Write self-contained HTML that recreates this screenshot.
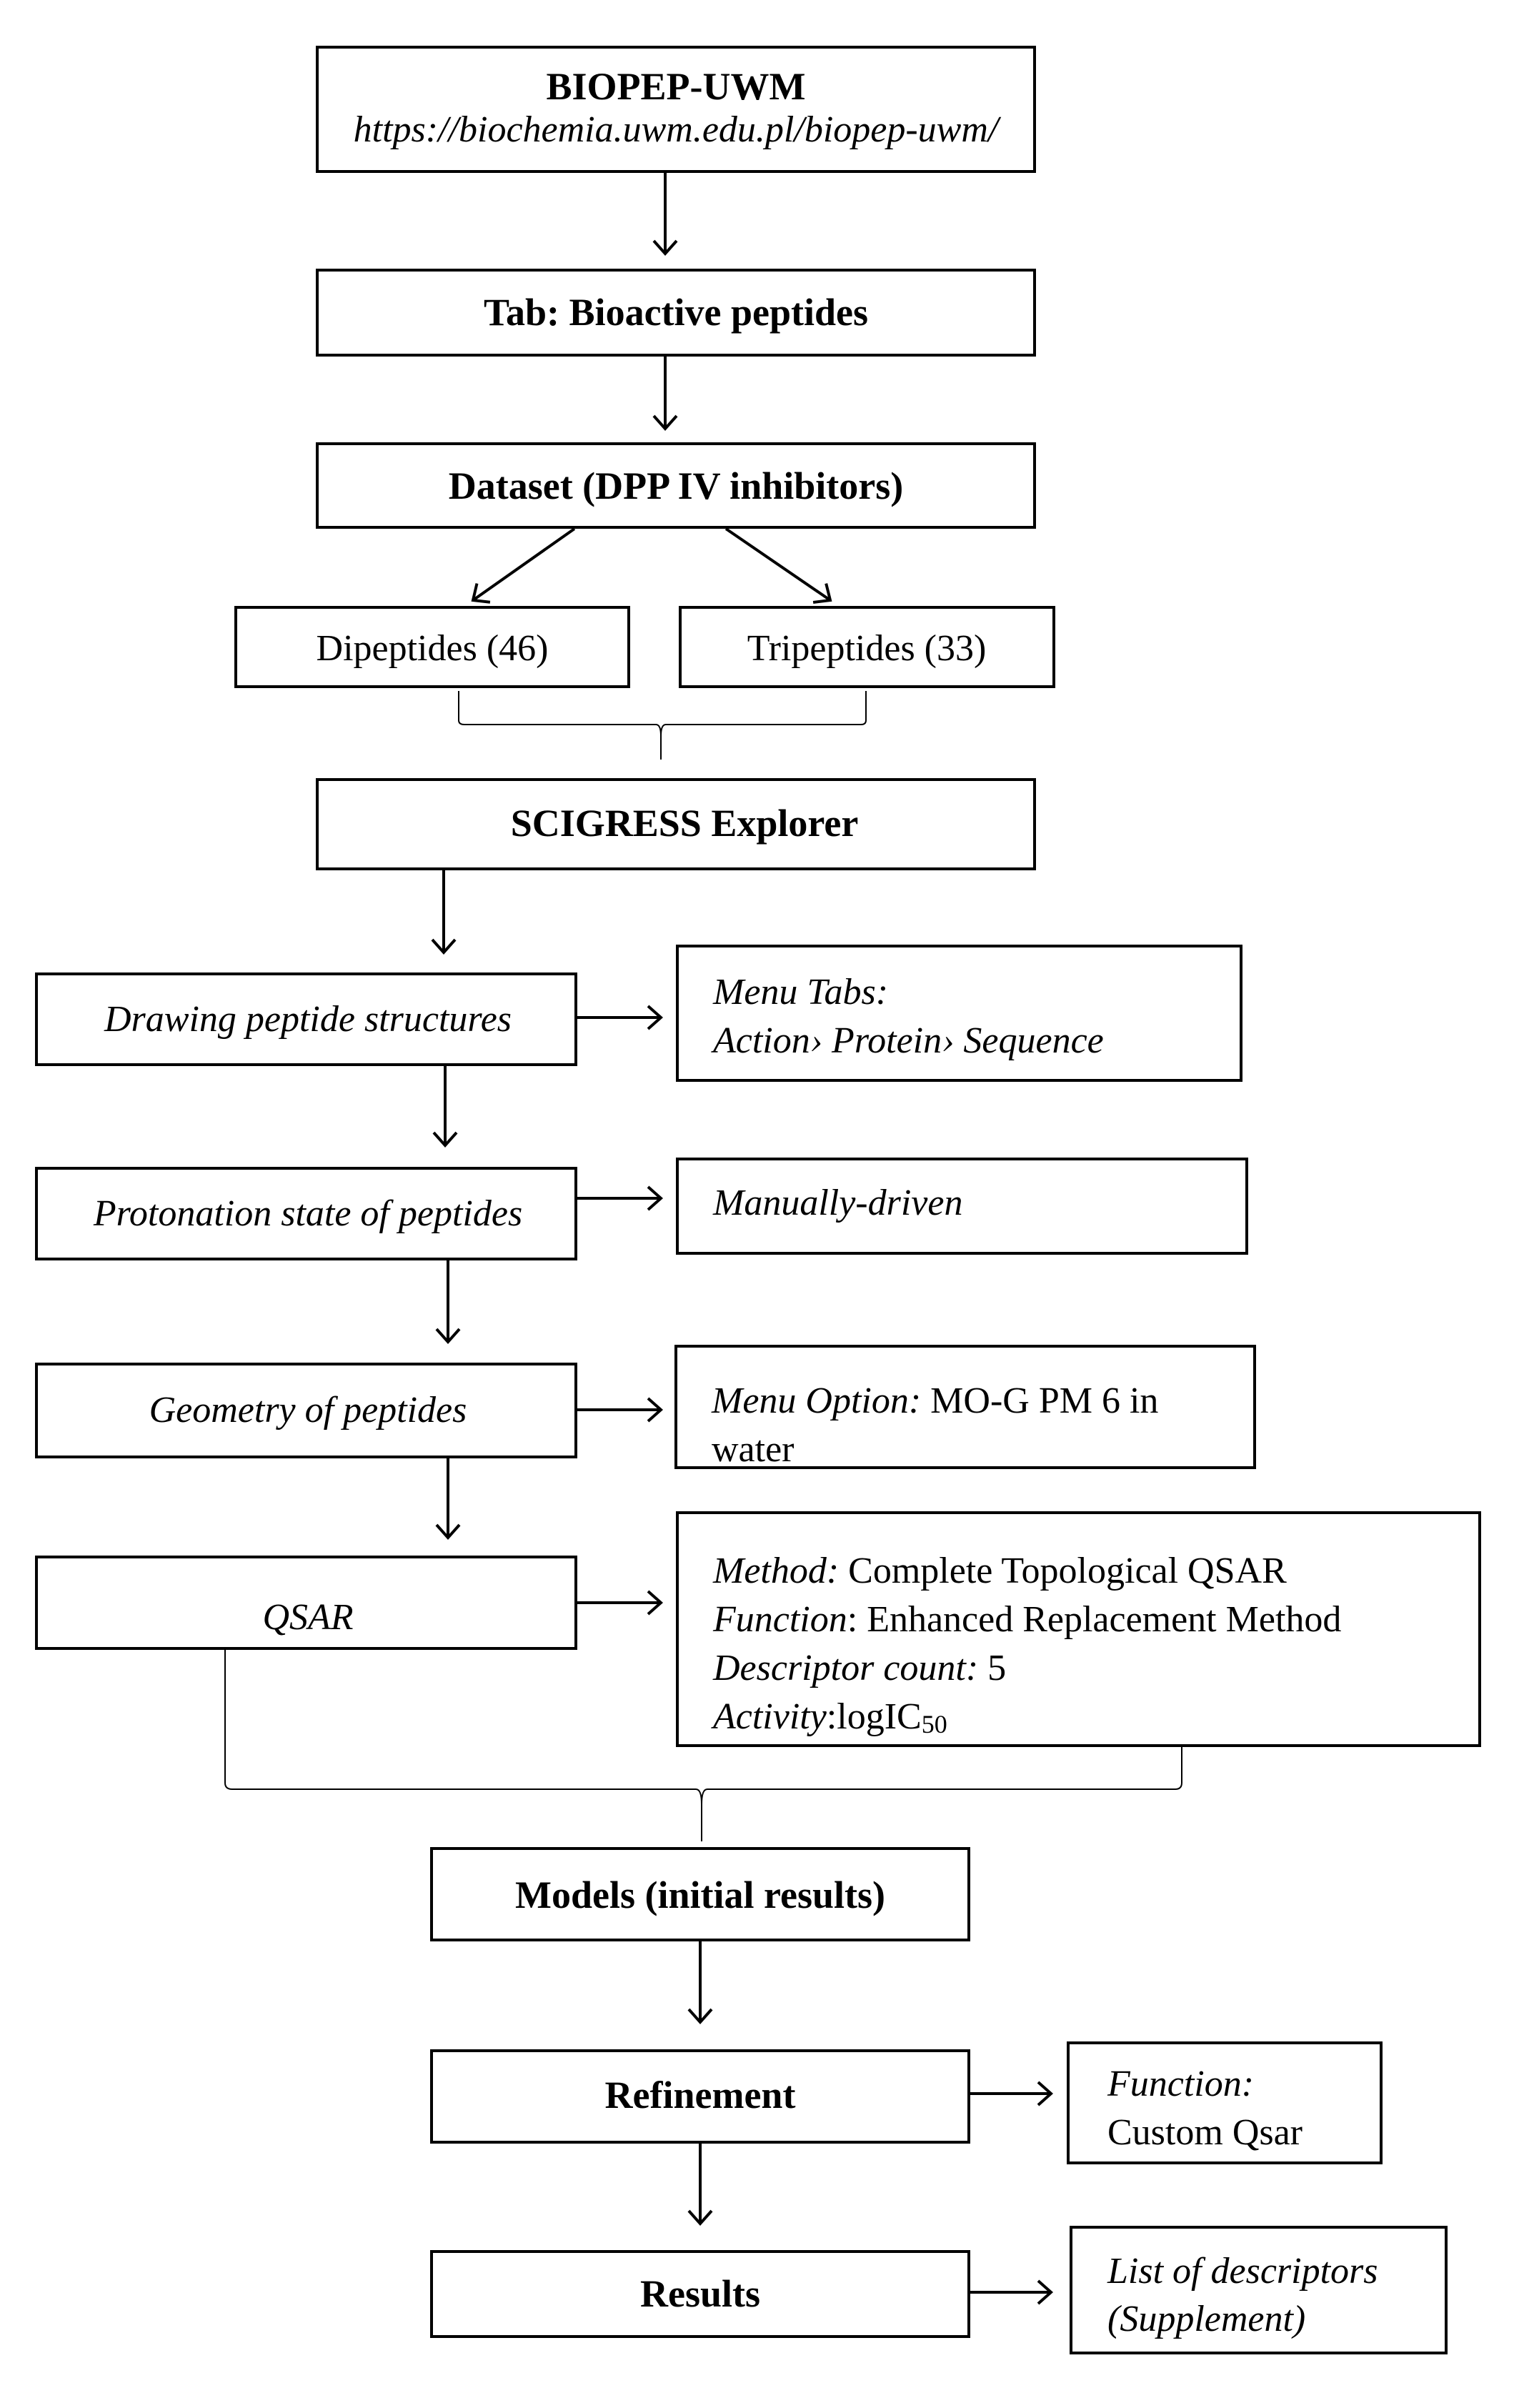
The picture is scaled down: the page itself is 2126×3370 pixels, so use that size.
<!DOCTYPE html>
<html><head><meta charset="utf-8"><style>
html,body{margin:0;padding:0;background:#fff}
svg{display:block}
text{font-family:"Liberation Serif",serif;fill:#000}
.b{font-weight:bold;font-size:54px}
.n{font-size:52px}
.i{font-size:52px;font-style:italic}
</style></head><body>
<svg width="2126" height="3370" viewBox="0 0 2126 3370" xmlns="http://www.w3.org/2000/svg">
<defs>
<marker id="a" markerWidth="40" markerHeight="40" refX="20" refY="20" orient="auto" markerUnits="userSpaceOnUse">
<path d="M2,4 L20,20 L2,36" fill="none" stroke="#000" stroke-width="4"/>
</marker>
</defs>
<g fill="none" stroke="#000" stroke-width="4">
<rect x="444" y="66" width="1004" height="174"/>
<rect x="444" y="378" width="1004" height="119"/>
<rect x="444" y="621" width="1004" height="117"/>
<rect x="330" y="850" width="550" height="111"/>
<rect x="952" y="850" width="523" height="111"/>
<rect x="444" y="1091" width="1004" height="125"/>
<rect x="51" y="1363" width="755" height="127"/>
<rect x="948" y="1324" width="789" height="188"/>
<rect x="51" y="1635" width="755" height="127"/>
<rect x="948" y="1622" width="797" height="132"/>
<rect x="51" y="1909" width="755" height="130"/>
<rect x="946" y="1884" width="810" height="170"/>
<rect x="51" y="2179" width="755" height="128"/>
<rect x="948" y="2117" width="1123" height="326"/>
<rect x="604" y="2587" width="752" height="128"/>
<rect x="604" y="2870" width="752" height="128"/>
<rect x="1495" y="2859" width="438" height="168"/>
<rect x="604" y="3151" width="752" height="119"/>
<rect x="1499" y="3117" width="525" height="176"/>
</g>
<g fill="none" stroke="#000" stroke-width="4" marker-end="url(#a)">
<line x1="931" y1="240" x2="931" y2="355"/>
<line x1="931" y1="497" x2="931" y2="600"/>
<line x1="804" y1="740" x2="662" y2="840"/>
<line x1="1016" y1="740" x2="1162" y2="840"/>
<line x1="621" y1="1216" x2="621" y2="1333"/>
<line x1="808" y1="1424" x2="925" y2="1424"/>
<line x1="623" y1="1490" x2="623" y2="1603"/>
<line x1="808" y1="1677" x2="925" y2="1677"/>
<line x1="627" y1="1762" x2="627" y2="1878"/>
<line x1="808" y1="1973" x2="925" y2="1973"/>
<line x1="627" y1="2039" x2="627" y2="2152"/>
<line x1="808" y1="2243" x2="925" y2="2243"/>
<line x1="980" y1="2715" x2="980" y2="2830"/>
<line x1="1356" y1="2930" x2="1471" y2="2930"/>
<line x1="980" y1="2998" x2="980" y2="3112"/>
<line x1="1356" y1="3208" x2="1471" y2="3208"/>
</g>
<g fill="none" stroke="#000" stroke-width="2">
<path d="M642,967 L642,1008 Q642,1014 650,1014 L918,1014 Q925,1014 925,1030 L925,1063 M925,1030 Q925,1014 932,1014 L1205,1014 Q1212,1014 1212,1008 L1212,967"/>
<path d="M315,2307 L315,2495 Q315,2504 325,2504 L974,2504 Q982,2504 982,2525 L982,2577 M982,2525 Q982,2504 990,2504 L1645,2504 Q1654,2504 1654,2495 L1654,2443"/>
</g>
<text class="b" x="946" y="139" text-anchor="middle">BIOPEP-UWM</text>
<text class="i" x="946" y="198" text-anchor="middle" font-size="46">https://biochemia.uwm.edu.pl/biopep-uwm/</text>
<text class="b" x="946" y="455" text-anchor="middle">Tab: Bioactive peptides</text>
<text class="b" x="946" y="698" text-anchor="middle">Dataset (DPP IV inhibitors)</text>
<text class="n" x="605" y="924" text-anchor="middle">Dipeptides  (46)</text>
<text class="n" x="1213" y="924" text-anchor="middle">Tripeptides (33)</text>
<text class="b" x="958" y="1170" text-anchor="middle">SCIGRESS Explorer</text>
<text class="i" x="431" y="1443" text-anchor="middle">Drawing peptide structures</text>
<text class="i" x="998" y="1405">Menu Tabs:</text>
<text class="i" x="998" y="1473">Action›   Protein›   Sequence</text>
<text class="i" x="431" y="1715" text-anchor="middle">Protonation state of peptides</text>
<text class="i" x="998" y="1700">Manually-driven</text>
<text class="i" x="431" y="1990" text-anchor="middle">Geometry of peptides</text>
<text class="n" x="996" y="1977"><tspan font-style="italic">Menu Option:</tspan> MO-G PM 6 in</text>
<text class="n" x="996" y="2045">water</text>
<text class="i" x="431" y="2280" text-anchor="middle">QSAR</text>
<text class="n" x="998" y="2215"><tspan font-style="italic">Method:</tspan> Complete Topological QSAR</text>
<text class="n" x="998" y="2283"><tspan font-style="italic">Function</tspan>: Enhanced Replacement Method</text>
<text class="n" x="998" y="2351"><tspan font-style="italic">Descriptor count:</tspan> 5</text>
<text class="n" x="998" y="2419"><tspan font-style="italic">Activity</tspan>:logIC<tspan font-size="36" dy="6">50</tspan></text>
<text class="b" x="980" y="2670" text-anchor="middle">Models (initial results)</text>
<text class="b" x="980" y="2950" text-anchor="middle">Refinement</text>
<text class="i" x="1550" y="2933">Function:</text>
<text class="n" x="1550" y="3001">Custom Qsar</text>
<text class="b" x="980" y="3228" text-anchor="middle">Results</text>
<text class="i" x="1550" y="3195">List of descriptors</text>
<text class="i" x="1550" y="3262">(Supplement)</text>
</svg>
</body></html>
